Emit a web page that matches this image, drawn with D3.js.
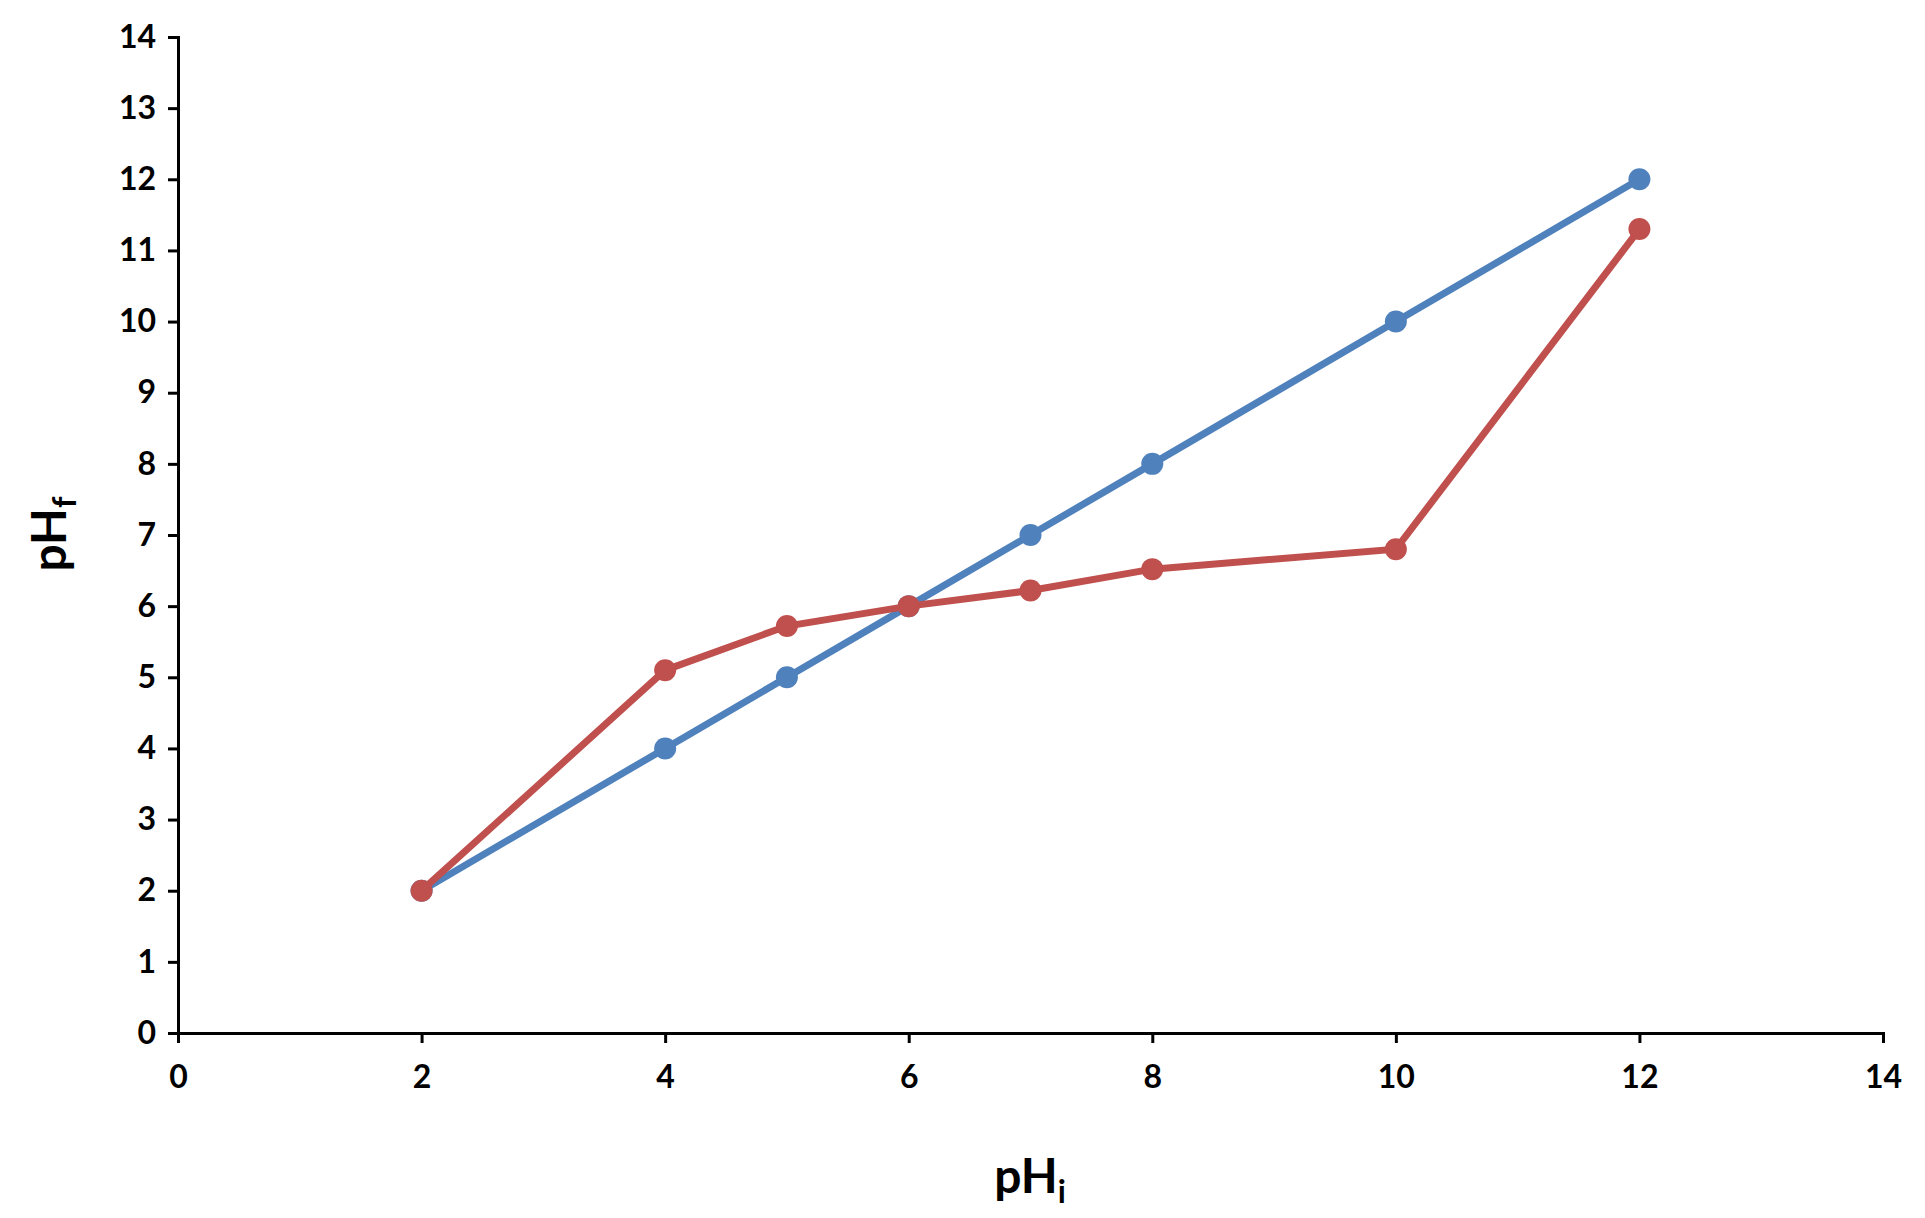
<!DOCTYPE html>
<html><head><meta charset="utf-8">
<script src="https://d3js.org/d3.v7.min.js"></script>
<style>body{margin:0;background:#fff}</style></head>
<body><svg id="c" width="1925" height="1218"></svg>
<script>
const xVals=[2,4,5,6,7,8,10,12];
const blueVals=[2,4,5,6,7,8,10,12];
const redVals=[2,5.1,5.72,6.0,6.22,6.52,6.8,11.3];
const ticks=[0,1,2,3,4,5,6,7,8,9,10,11,12,13,14];
const xTicks=[0,2,4,6,8,10,12,14];
const svg=d3.select("#c");
const font="Lato, 'Open Sans', sans-serif";
const x=d3.scaleLinear().domain([0,14]).range([178,1883]);
const y=d3.scaleLinear().domain([0,14]).range([1033,37]);
const ax=svg.append("g").attr("transform","translate(0,1033)").call(d3.axisBottom(x).tickValues(xTicks).tickSize(10).tickPadding(22));
const ay=svg.append("g").attr("transform","translate(178,0)").call(d3.axisLeft(y).tickValues(ticks).tickSize(10).tickPadding(12));
[ax,ay].forEach(a=>{a.selectAll("path,line").attr("stroke","#000").attr("stroke-width",3);
a.selectAll("text").attr("font-family",font).attr("font-weight","bold").attr("font-size",32).attr("fill","#000");});
const series=[[blueVals,"#4F81BD"],[redVals,"#C0504D"]];
series.forEach(([v,c])=>{
 const pts=xVals.map((d,i)=>[d,v[i]]);
 svg.append("path").datum(pts).attr("fill","none").attr("stroke",c).attr("stroke-width",7)
  .attr("d",d3.line().x(d=>x(d[0])).y(d=>y(d[1])));
 svg.selectAll(null).data(pts).enter().append("circle").attr("cx",d=>x(d[0])).attr("cy",d=>y(d[1])).attr("r",11).attr("fill",c);
});
const xl=svg.append("text").attr("x",1030).attr("y",1193).attr("text-anchor","middle").attr("font-family",font).attr("font-weight","bold").attr("font-size",48);
xl.append("tspan").text("pH");xl.append("tspan").text("i").attr("font-size",32).attr("dy",10);
const yl=svg.append("text").attr("transform","translate(66,534) rotate(-90)").attr("text-anchor","middle").attr("font-family",font).attr("font-weight","bold").attr("font-size",48);
yl.append("tspan").text("pH");yl.append("tspan").text("f").attr("font-size",32).attr("dy",10);
</script></body></html>
